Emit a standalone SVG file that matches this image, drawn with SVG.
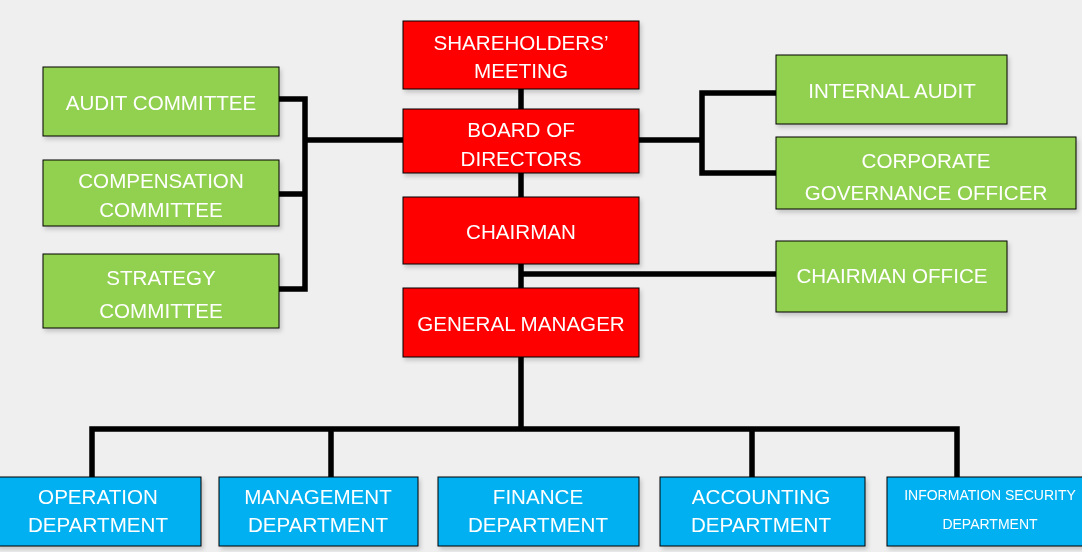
<svg xmlns="http://www.w3.org/2000/svg" width="1082" height="552" viewBox="0 0 1082 552">
<defs>
<filter id="sh" x="-10%" y="-10%" width="130%" height="140%">
<feDropShadow dx="2" dy="3" stdDeviation="2" flood-color="#000" flood-opacity="0.18"/>
</filter>
<style>
.red{fill:#FF0000;stroke:#000;stroke-width:1}
.grn{fill:#92D050;stroke:#000;stroke-width:1}
.blu{fill:#00B0F0;stroke:#000;stroke-width:1}
.box{filter:url(#sh)}
text{font-family:"Liberation Sans",Arial,sans-serif;font-size:20.6px;fill:#fff;text-anchor:middle}
.sm{font-size:14px}
.ln{fill:none;stroke:#000;stroke-width:5.5;stroke-linejoin:miter}
</style>
</defs>
<rect width="1082" height="552" fill="#EFEFEF"/>
<g id="connectors">
<path class="ln" d="M521 89V288"/>
<path class="ln" d="M279 99H305V289H279M279 194H305M305 140H403"/>
<path class="ln" d="M639 140H702M776 93H702V173H776"/>
<path class="ln" d="M521 274H776"/>
<path class="ln" d="M521 357V429M92 477V429H957V477M331 429V477M752 429V477"/>
</g>
<g id="shareholders" class="box"><rect class="red" x="403" y="21" width="236" height="68"/><text x="521" y="50">SHAREHOLDERS’</text><text x="521" y="78">MEETING</text></g>
<g id="board" class="box"><rect class="red" x="403" y="109" width="236" height="64"/><text x="521" y="137">BOARD OF</text><text x="521" y="166">DIRECTORS</text></g>
<g id="chairman" class="box"><rect class="red" x="403" y="197" width="236" height="67"/><text x="521" y="239">CHAIRMAN</text></g>
<g id="gm" class="box"><rect class="red" x="403" y="288" width="236" height="69"/><text x="521" y="331">GENERAL MANAGER</text></g>
<g id="audit-committee" class="box"><rect class="grn" x="43" y="67" width="236" height="69"/><text x="161" y="110">AUDIT COMMITTEE</text></g>
<g id="compensation" class="box"><rect class="grn" x="43" y="160" width="236" height="66"/><text x="161" y="188">COMPENSATION</text><text x="161" y="217">COMMITTEE</text></g>
<g id="strategy" class="box"><rect class="grn" x="43" y="254" width="236" height="74"/><text x="161" y="285">STRATEGY</text><text x="161" y="318">COMMITTEE</text></g>
<g id="internal-audit" class="box"><rect class="grn" x="776" y="55" width="231" height="69"/><text x="892" y="98">INTERNAL AUDIT</text></g>
<g id="corporate-governance" class="box"><rect class="grn" x="776" y="137" width="300" height="72"/><text x="926" y="168">CORPORATE</text><text x="926" y="200">GOVERNANCE OFFICER</text></g>
<g id="chairman-office" class="box"><rect class="grn" x="776" y="241" width="231" height="71"/><text x="892" y="283">CHAIRMAN OFFICE</text></g>
<g id="operation" class="box"><rect class="blu" x="-4" y="477" width="205" height="69"/><text x="98" y="504">OPERATION</text><text x="98" y="532">DEPARTMENT</text></g>
<g id="management" class="box"><rect class="blu" x="219" y="477" width="199" height="69"/><text x="318" y="504">MANAGEMENT</text><text x="318" y="532">DEPARTMENT</text></g>
<g id="finance" class="box"><rect class="blu" x="438" y="477" width="201" height="69"/><text x="538" y="504">FINANCE</text><text x="538" y="532">DEPARTMENT</text></g>
<g id="accounting" class="box"><rect class="blu" x="660" y="477" width="205" height="69"/><text x="761" y="504">ACCOUNTING</text><text x="761" y="532">DEPARTMENT</text></g>
<g id="information-security" class="box"><rect class="blu" x="887" y="477" width="206" height="69"/><text class="sm" x="990" y="500">INFORMATION SECURITY</text><text class="sm" x="990" y="529">DEPARTMENT</text></g>
</svg>
